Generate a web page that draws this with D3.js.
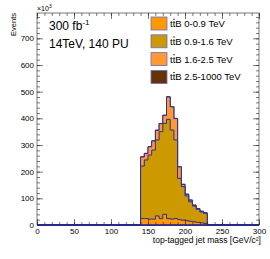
<!DOCTYPE html>
<html>
<head>
<meta charset="utf-8">
<style>
  body { margin: 0; background: white; }
  svg { display: block; }
  text { font-family: "Liberation Sans", Arial, sans-serif; fill: #000; }
</style>
</head>
<body>
<script src="https://d3js.org/d3.v7.min.js"></script>
<script>
// bin low edges, 5 GeV wide
const massBins = [140, 145, 150, 155, 160, 165, 170, 175, 180, 185, 190, 195, 200, 205, 210, 215, 220, 225];
const binWidth = 5;
// events (x10^3) per sample
const ttB_0_09    = [24, 24, 22, 22, 34, 24, 40, 24, 22, 24, 20, 18, 16, 14, 12, 10, 8, 6];
const ttB_09_16   = [197, 220, 240, 259, 285, 326, 341, 372, 334, 295, 155, 126, 93, 73, 59, 49, 41, 38];
const ttB_16_25   = [34, 24, 31, 34, 36, 30, 30, 84, 87, 80, 43, 8, 6, 6, 3, 2, 2, 1];
const ttB_25_1000 = [1, 1, 1, 1, 1, 1, 1, 1, 1, 1, 1, 1, 1, 1, 1, 1, 1, 1];

const sampleRanges = ["0-0.9 TeV", "0.9-1.6 TeV", "1.6-2.5 TeV", "2.5-1000 TeV"];
const sampleColors = ["#ff9900", "#cc9900", "#ff9933", "#663300"];

const xTicks = [0, 50, 100, 150, 200, 250, 300];
const yTicks = [0, 100, 200, 300, 400, 500, 600, 700];

const W = 270, H = 259;
const L = 37, R = 259, T = 13, B = 225;

const svg = d3.select("body").append("svg").attr("width", W).attr("height", H);

const x = d3.scaleLinear().domain([0, 300]).range([L, R]);
const y = d3.scaleLinear().domain([0, 795]).range([B, T]);

const samples = [ttB_0_09, ttB_09_16, ttB_16_25, ttB_25_1000];
// cumulative stack
let cum = massBins.map(() => 0);
const stacks = samples.map(s => {
  cum = cum.map((c, i) => c + s[i]);
  return cum.slice();
});

function stepPath(vals) {
  let p = "M" + x(0) + "," + y(0);
  p += "L" + x(massBins[0]) + "," + y(0);
  massBins.forEach((b, i) => {
    p += "L" + x(b) + "," + y(vals[i]);
    p += "L" + x(b + binWidth) + "," + y(vals[i]);
  });
  p += "L" + x(massBins[massBins.length - 1] + binWidth) + "," + y(0);
  p += "L" + x(300) + "," + y(0);
  return p;
}

const g = svg.append("g");
// draw top of stack first, each filled down to zero
for (let k = stacks.length - 1; k >= 0; k--) {
  g.append("path")
    .attr("d", stepPath(stacks[k]) + "Z")
    .attr("fill", sampleColors[k])
    .attr("stroke", "#2b2ba0")
    .attr("stroke-width", 1);
}

// axes
const tickStroke = "#222";
function minors(step, max) { return d3.range(0, max + 0.001, step); }

const xAxis = d3.axisBottom(x).tickValues(xTicks).tickSizeInner(-6).tickSizeOuter(0).tickPadding(3);
const xMin = d3.axisBottom(x).tickValues(minors(10, 300)).tickSizeInner(-3).tickSizeOuter(0).tickFormat("");
const yAxis = d3.axisLeft(y).tickValues(yTicks).tickSizeInner(-6).tickSizeOuter(0).tickPadding(3);
const yMin = d3.axisLeft(y).tickValues(minors(20, 780)).tickSizeInner(-3).tickSizeOuter(0).tickFormat("");

svg.append("g").attr("transform", `translate(0,${B})`).call(xAxis);
svg.append("g").attr("transform", `translate(0,${B})`).call(xMin);
svg.append("g").attr("transform", `translate(0,${T})`).call(d3.axisTop(x).tickValues(xTicks).tickSizeInner(-6).tickSizeOuter(0).tickFormat(""));
svg.append("g").attr("transform", `translate(0,${T})`).call(d3.axisTop(x).tickValues(minors(10, 300)).tickSizeInner(-3).tickSizeOuter(0).tickFormat(""));
svg.append("g").attr("transform", `translate(${L},0)`).call(yAxis);
svg.append("g").attr("transform", `translate(${L},0)`).call(yMin);
svg.append("g").attr("transform", `translate(${R},0)`).call(d3.axisRight(y).tickValues(yTicks).tickSizeInner(-6).tickSizeOuter(0).tickFormat(""));
svg.append("g").attr("transform", `translate(${R},0)`).call(d3.axisRight(y).tickValues(minors(20, 780)).tickSizeInner(-3).tickSizeOuter(0).tickFormat(""));

svg.selectAll(".domain").remove();
svg.selectAll(".tick line").attr("stroke", tickStroke).attr("stroke-width", 0.6);
svg.selectAll(".tick text").style("font-size", "8px").style("font-family", "Liberation Sans, Arial, sans-serif");

// frame
svg.append("rect").attr("x", L).attr("y", T).attr("width", R - L).attr("height", B - T)
  .attr("fill", "none").attr("stroke", "#222").attr("stroke-width", 0.6);

// histogram baseline over the frame
svg.append("line").attr("x1", L).attr("x2", R).attr("y1", B).attr("y2", B)
  .attr("stroke", "#2b2ba0").attr("stroke-width", 1);

// axis titles
svg.append("text").attr("x", R + 2).attr("y", 243).attr("text-anchor", "end")
  .style("font-size", "8.5px").text("top-tagged jet mass [GeV/c\u00b2]");
svg.append("text").attr("transform", `translate(15.5,${T}) rotate(-90)`).attr("text-anchor", "end")
  .style("font-size", "7.5px").text("Events");
const ex = svg.append("text").attr("x", 37).attr("y", 11).style("font-size", "7px");
ex.append("tspan").text("\u00d710");
ex.append("tspan").attr("dy", -3).style("font-size", "5px").text("3");

// labels
const lab1 = svg.append("text").attr("x", 49).attr("y", 30).style("font-size", "12px");
lab1.append("tspan").text("300 fb");
lab1.append("tspan").attr("dy", -5).style("font-size", "8px").text("-1");
svg.append("text").attr("x", 49).attr("y", 48).style("font-size", "12px").text("14TeV, 140 PU");

// legend
const leg = svg.append("g");
sampleRanges.forEach((n, i) => {
  const yy = 17 + i * 17.8;
  leg.append("rect").attr("x", 151).attr("y", yy).attr("width", 16).attr("height", 13)
    .attr("fill", sampleColors[i]).attr("stroke", "#6a6ad0").attr("stroke-width", 0.8);
  const t = leg.append("text").attr("x", 170).attr("y", yy + 10).style("font-size", "9.5px").text("ttB " + n);
  // bar over the second t
  const node = t.node();
  const x0 = 170 + node.getSubStringLength(0, 1);
  const w = node.getSubStringLength(1, 1);
  leg.append("line").attr("x1", x0 + 0.3).attr("x2", x0 + w - 0.3)
    .attr("y1", yy + 2.2).attr("y2", yy + 2.2).attr("stroke", "#000").attr("stroke-width", 0.7);
});
</script>
</body>
</html>
